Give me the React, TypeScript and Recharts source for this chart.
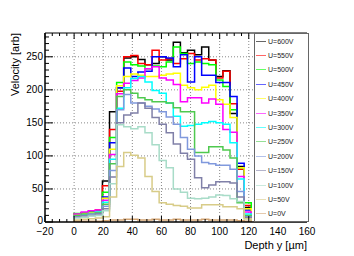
import { LineChart, Line, XAxis, YAxis, ReferenceLine } from 'recharts'

// histogram binning: 25 bins along depth
const nBins = 25
const depthMax = 121.7
const binEdges = Array.from({ length: nBins + 1 }, (_, i) => +((i * depthMax) / nBins).toFixed(2))

const labels = ['U=600V', 'U=550V', 'U=500V', 'U=450V', 'U=400V', 'U=350V', 'U=300V', 'U=250V', 'U=200V', 'U=150V', 'U=100V', 'U=50V', 'U=0V']
const colors = ['#000000', '#ff0000', '#00ff00', '#0000ff', '#ffff00', '#ff00ff', '#00ffff', '#4fc94f', '#8099dd', '#8080a8', '#a8dcc8', '#d8cc88', '#d4a574']

const u600 = [11, 13, 14, 17, 62, 167, 203, 248, 250, 246, 238, 240, 250, 245, 272, 256, 260, 253, 265, 245, 220, 229, 164, 84, 22]
const u550 = [12, 14, 16, 18, 55, 140, 198, 250, 252, 240, 238, 260, 245, 247, 240, 247, 255, 245, 247, 245, 218, 228, 179, 80, 25]
const u500 = [13, 14, 16, 17, 45, 128, 211, 242, 238, 236, 232, 236, 235, 242, 265, 255, 240, 242, 240, 238, 215, 205, 170, 82, 29]
const u450 = [10, 12, 14, 16, 38, 120, 203, 233, 220, 227, 228, 250, 250, 248, 235, 253, 212, 250, 222, 222, 211, 211, 190, 89, 18]
const u400 = [11, 13, 14, 15, 36, 110, 206, 220, 224, 222, 220, 220, 222, 224, 225, 207, 203, 200, 204, 207, 185, 178, 158, 82, 20]
const u350 = [12, 15, 17, 18, 33, 102, 194, 210, 214, 218, 232, 235, 218, 215, 208, 182, 188, 188, 180, 186, 178, 140, 136, 69, 15]
const u300 = [9, 11, 13, 15, 30, 95, 172, 203, 217, 220, 212, 199, 195, 180, 160, 145, 146, 148, 150, 152, 150, 148, 120, 65, 12]
const u250 = [10, 12, 13, 14, 27, 88, 190, 200, 195, 188, 185, 182, 182, 180, 173, 167, 167, 105, 105, 114, 114, 109, 97, 29, 10]
const u200 = [8, 10, 12, 13, 24, 78, 170, 193, 180, 180, 175, 171, 167, 159, 148, 128, 110, 100, 90, 88, 86, 86, 80, 46, 8]
const u150 = [7, 9, 10, 12, 20, 68, 150, 162, 165, 180, 172, 158, 148, 135, 118, 104, 95, 67, 52, 56, 61, 61, 59, 38, 7]
const u100 = [6, 7, 9, 10, 17, 58, 147, 144, 141, 144, 135, 117, 93, 82, 50, 45, 36, 35, 36, 38, 41, 40, 35, 31, 5]
const u50 = [3, 4, 5, 6, 8, 38, 84, 105, 101, 97, 69, 46, 29, 27, 25, 24, 21, 21, 26, 26, 26, 23, 23, 20, 5]
const u0 = [1, 1, 1, 1, 2, 3, 3, 4, 4, 3, 3, 4, 3, 3, 4, 3, 3, 3, 4, 3, 3, 3, 3, 2, 1]

const seriesValues = [u600, u550, u500, u450, u400, u350, u300, u250, u200, u150, u100, u50, u0]

const xMajorTicks = [-20, 0, 20, 40, 60, 80, 100, 120, 140, 160]
const yMajorTicks = [0, 50, 100, 150, 200, 250]
const xGrid = [0, 20, 40, 60, 80, 100, 120, 140]
const yGrid = [50, 100, 150, 200, 250]
const xMinorTicks = Array.from({ length: 37 }, (_, i) => -20 + i * 5)
const yMinorTicks = Array.from({ length: 29 }, (_, i) => i * 10)

// step outline like a ROOT histogram: rise at first edge, drop at last edge
const keyOf = (i: number) => 's' + i
const row = (x: number, pick: (vals: number[]) => number) => {
  const r: Record<string, number> = { x }
  seriesValues.forEach((vals, k) => { r[keyOf(k)] = pick(vals) })
  return r
}
const chartData = [
  row(binEdges[0], () => 0),
  ...binEdges.slice(0, nBins).map((edge, i) => row(edge, vals => vals[i])),
  row(binEdges[nBins], vals => vals[nBins - 1]),
  row(binEdges[nBins], () => 0),
]

const font = '"Liberation Sans", Arial, sans-serif'
const fmt = (v: number) => String(v).replace('-', '\u2212')

function BottomTick({ x, y, payload }: any) {
  const major = xMajorTicks.includes(payload.value)
  return (
    <g>
      <line x1={x} x2={x} y1={y} y2={y - (major ? 6 : 3)} stroke="#000" />
      {major && (
        <text x={x} y={y + 13} textAnchor="middle" fontSize={10} fontFamily={font} fill="#000">
          {fmt(payload.value)}
        </text>
      )}
    </g>
  )
}

function TopTick({ x, y, payload }: any) {
  const major = xMajorTicks.includes(payload.value)
  return <line x1={x} x2={x} y1={y} y2={y + (major ? 6 : 3)} stroke="#000" />
}

function LeftTick({ x, y, payload }: any) {
  const major = yMajorTicks.includes(payload.value)
  // the 0 label sits just above the x labels, as in the original
  const shift = payload.value === 0 ? -2 : 0
  return (
    <g>
      <line x1={x} x2={x + (major ? 8 : 4)} y1={y} y2={y} stroke="#000" />
      {major && (
        <text x={x - 2} y={y + shift} dy="0.35em" textAnchor="end" fontSize={10} fontFamily={font} fill="#000">
          {payload.value}
        </text>
      )}
    </g>
  )
}

export default function App() {
  return (
    <div style={{ position: 'absolute', left: 0, top: 0, width: 354, height: 256, background: '#fff' }}>
      <LineChart width={354} height={256} data={chartData} margin={{ top: 28, right: 47, left: 5, bottom: 4 }}>
        {yGrid.map(v => (
          <ReferenceLine key={'gy' + v} y={v} stroke="#888" strokeDasharray="1 2" />
        ))}
        {xGrid.map(v => (
          <ReferenceLine key={'gx' + v} x={v} stroke="#888" strokeDasharray="1 2" />
        ))}
        <XAxis
          dataKey="x"
          type="number"
          domain={[-20, 160]}
          ticks={xMinorTicks}
          interval={0}
          allowDataOverflow
          height={30}
          tickSize={0}
          tickMargin={0}
          tickLine={false}
          tick={<BottomTick />}
          axisLine={{ stroke: '#000', strokeWidth: 1.5 }}
        />
        <XAxis
          xAxisId="top"
          orientation="top"
          dataKey="x"
          type="number"
          domain={[-20, 160]}
          ticks={xMinorTicks}
          interval={0}
          allowDataOverflow
          height={5}
          tickSize={0}
          tickMargin={0}
          tickLine={false}
          tick={<TopTick />}
          axisLine={{ stroke: '#000', strokeWidth: 1 }}
        />
        <YAxis
          type="number"
          domain={[0, 286]}
          ticks={yMinorTicks}
          interval={0}
          allowDataOverflow
          width={40}
          tickSize={0}
          tickMargin={0}
          tickLine={false}
          tick={<LeftTick />}
          axisLine={{ stroke: '#000', strokeWidth: 1.5 }}
        />
        {labels.map((name, k) => (
          <Line
            key={name}
            name={name}
            dataKey={keyOf(k)}
            type="stepAfter"
            stroke={colors[k]}
            strokeWidth={1.5}
            dot={false}
            activeDot={false}
            isAnimationActive={false}
          />
        ))}
      </LineChart>
      <svg width={354} height={256} style={{ position: 'absolute', left: 0, top: 0, pointerEvents: 'none' }}>
        <text x={307} y={249} textAnchor="end" fontSize={11} fontFamily={font} fill="#000">
          Depth y [µm]
        </text>
        <text x={19} y={33} textAnchor="end" fontSize={11} fontFamily={font} fill="#000" transform="rotate(-90 19 33)">
          Velocity [arb]
        </text>
      </svg>
      <div
        style={{
          position: 'absolute',
          left: 254,
          top: 33,
          width: 55,
          height: 189,
          boxSizing: 'border-box',
          border: '1px solid #666',
          background: '#fff',
          display: 'flex',
          flexDirection: 'column',
          fontFamily: font,
        }}
      >
        {labels.map((name, k) => (
          <div key={name} style={{ flex: 1, display: 'flex', alignItems: 'center' }}>
            <span style={{ display: 'inline-block', width: 10, marginLeft: 1, marginRight: 2, borderTop: `1.5px solid ${colors[k]}`, opacity: 0.6 }} />
            <span style={{ fontSize: 7, color: '#222', whiteSpace: 'nowrap' }}>{name}</span>
          </div>
        ))}
      </div>
    </div>
  )
}
